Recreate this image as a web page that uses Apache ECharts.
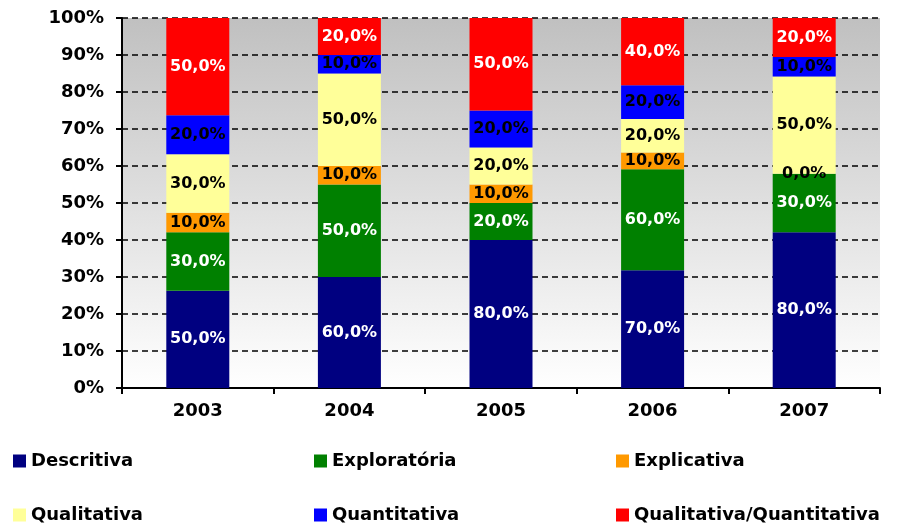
<!DOCTYPE html>
<html><head><meta charset="utf-8">
<script src="https://cdn.jsdelivr.net/npm/echarts@6/dist/echarts.min.js"></script>
<style>html,body{margin:0;padding:0;background:#fff}#c{width:899px;height:525px}</style>
</head><body><div id="c"></div>
<script>
var categories = ['2003', '2004', '2005', '2006', '2007'];
var seriesNames = ['Descritiva', 'Exploratória', 'Explicativa', 'Qualitativa', 'Quantitativa', 'Qualitativa/Quantitativa'];
var descritiva = [50, 60, 80, 70, 80];
var exploratoria = [30, 50, 20, 60, 30];
var explicativa = [10, 10, 10, 10, 0];
var qualitativa = [30, 50, 20, 20, 50];
var quantitativa = [20, 10, 20, 20, 10];
var qualiQuanti = [50, 20, 50, 40, 20];
var yTicks = [0, 10, 20, 30, 40, 50, 60, 70, 80, 90, 100];

var raw = [descritiva, exploratoria, explicativa, qualitativa, quantitativa, qualiQuanti];
var colors = ['#000080', '#008000', '#FF9900', '#FFFF99', '#0000FF', '#FF0000'];
var labelColors = ['#fff', '#fff', '#000', '#000', '#000', '#fff'];
var totals = categories.map(function (c, i) {
  return raw.reduce(function (s, arr) { return s + arr[i]; }, 0);
});
var FONT = 'DejaVu Sans';

var series = raw.map(function (arr, si) {
  return {
    name: seriesNames[si],
    type: 'bar',
    stack: 'all',
    barWidth: 63,
    itemStyle: { color: colors[si] },
    label: {
      show: true, position: 'inside',
      color: labelColors[si], fontFamily: FONT, fontWeight: 'bold', fontSize: 16,
      formatter: function (p) { return arr[p.dataIndex].toFixed(1).replace('.', ',') + '%'; }
    },
    data: arr.map(function (v, i) { return v / totals[i] * 100; })
  };
});

var legendPos = [[8, 447], [309, 447], [611, 447], [8, 501], [309, 501], [611, 501]];
var legends = seriesNames.map(function (n, i) {
  return {
    data: [n], left: legendPos[i][0], top: legendPos[i][1],
    icon: 'rect', itemWidth: 13, itemHeight: 13, itemGap: 6,
    textStyle: { fontFamily: FONT, fontWeight: 'bold', fontSize: 18, color: '#000' }
  };
});

var chart = echarts.init(document.getElementById('c'));
chart.setOption({
  animation: false,
  color: colors,
  legend: legends,
  grid: {
    left: 122, right: 19, top: 18, bottom: 137, show: true, borderWidth: 0,
    backgroundColor: new echarts.graphic.LinearGradient(0, 0, 0, 1, [
      { offset: 0, color: '#c0c0c0' }, { offset: 1, color: '#ffffff' }
    ])
  },
  xAxis: {
    type: 'category', data: categories,
    axisLine: { lineStyle: { color: '#000', width: 2 } },
    axisTick: { show: true, length: 6, lineStyle: { color: '#000', width: 2 } },
    axisLabel: { fontFamily: FONT, fontWeight: 'bold', fontSize: 18, color: '#000', margin: 14 }
  },
  yAxis: {
    type: 'value', min: 0, max: 100, interval: 10,
    axisLine: { show: true, lineStyle: { color: '#000', width: 2 } },
    axisTick: { show: true, length: 6, lineStyle: { color: '#000', width: 2 } },
    axisLabel: { fontFamily: FONT, fontWeight: 'bold', fontSize: 18, color: '#000', margin: 18,
      formatter: function (v) { return yTicks.indexOf(v) >= 0 ? v + '%' : ''; } },
    splitLine: { show: true, lineStyle: { color: '#000', width: 1.5, type: [6, 4] } }
  },
  series: series
});
</script></body></html>
